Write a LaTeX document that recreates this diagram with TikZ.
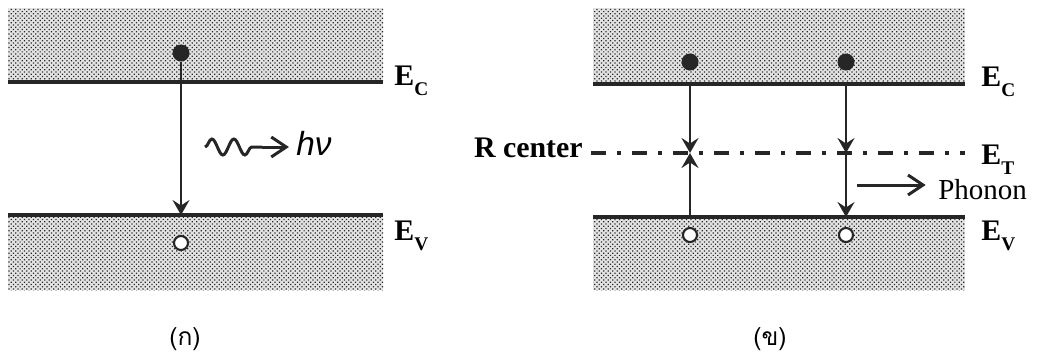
\documentclass[tikz,border=0pt]{standalone}
\usepackage{fontspec}
\setmainfont{Liberation Serif}
\newfontfamily\thaifont[Script=Thai]{Loma}
\newfontfamily\hvfont{Liberation Sans}
\usetikzlibrary{arrows.meta,patterns.meta,decorations.pathmorphing,positioning}
\newcommand{\lev}[1]{E\raisebox{-6pt}{\fontsize{11}{12}\selectfont #1}}
\tikzset{
  band/.style={fill=gray!22,postaction={pattern={Dots[distance=1.8pt,radius=0.5pt,angle=45]},pattern color=black!85}},
  levelline/.style={line width=2.2pt,color=black!85},
  trapline/.style={line width=2.2pt,color=black!85,dash pattern=on 0.3cm off 0.22cm on 0.08cm off 0.22cm},
  electron/.style={circle,fill=black!85,inner sep=0pt,minimum size=0.34cm},
  hole/.style={circle,draw=black!85,fill=white,line width=1.2pt,inner sep=0pt,minimum size=0.28cm},
  trans/.style={-{Stealth[length=0.3cm,width=0.34cm,inset=0.11cm]},line width=1.5pt,color=black!85},
  barb/.style={-{Straight Barb[length=0.3cm,width=0.4cm]},line width=1.7pt,color=black!85},
  photon/.style={decorate,decoration={snake,segment length=0.44cm,amplitude=0.16cm},line width=1.7pt,color=black!85},
  levlabel/.style={font=\bfseries\fontsize{17}{20}\selectfont,inner sep=0pt,anchor=base west},
  caption/.style={font=\thaifont\fontsize{14}{16}\selectfont,inner sep=0pt}
}

\begin{document}
\begin{tikzpicture}[x=0.02cm,y=-0.02cm]
  \useasboundingbox (0,0) rectangle (1037,356);
  % (ก) radiative recombination
  \fill[band] (8,8) rectangle (383,82);
  \fill[band] (8,215) rectangle (383,290);
  \draw[levelline] (8,82) -- (383,82);
  \draw[levelline] (8,215) -- (383,215);
  \node[levlabel] (eca) at (394,85) {\lev{C}};
  \node[levlabel] (eva) at (394,240) {\lev{V}};
  \node[electron] (e1) at (181,53) {};
  \node[hole] (h1) at (181,243) {};
  \coordinate (v1) at (181,215);
  \draw[trans] (e1) -- (v1);
  \coordinate (w0) at (205,147);
  \coordinate (w1) at (262,147);
  \node[font=\hvfont\itshape\fontsize{19}{22}\selectfont,inner sep=0pt,anchor=base west] (hv) at (296,155) {hν};
  \draw[photon] (w0) -- (w1);
  \draw[barb] (w1) -- (w1 -| hv.west) [shorten >=4pt];
  \node[caption] (capa) at (185,339) {(ก)};
  % (ข) recombination through an R center
  \fill[band] (593,8) rectangle (965,84);
  \fill[band] (593,217) rectangle (965,290);
  \draw[levelline] (593,84) -- (965,84);
  \draw[levelline] (593,217) -- (965,217);
  \node[levlabel,anchor=base east] (rc) at (583,157) {R center};
  \coordinate (tr) at (965,153);
  \draw[trapline] (rc.east |- tr) ++(8,0) -- (tr);
  \node[levlabel] (ecb) at (981,86) {\lev{C}};
  \node[levlabel] (etb) at (981,164) {\lev{T}};
  \node[levlabel] (evb) at (981,240) {\lev{V}};
  \node[electron] (e2) at (690,62) {};
  \node[electron] (e3) at (846,62) {};
  \node[hole] (h2) at (690,235) {};
  \node[hole] (h3) at (846,235) {};
  \coordinate (c2) at (690,84);
  \coordinate (t2) at (690,153);
  \coordinate (v2) at (690,217);
  \coordinate (c3) at (846,84);
  \coordinate (t3) at (846,153);
  \coordinate (v3) at (846,217);
  \draw[trans] (c2) -- (t2);
  \draw[trans] (v2) -- (t2);
  \draw[trans] (c3) -- (t3);
  \draw[trans] (t3) -- (v3);
  \node[font=\fontsize{16.5}{19}\selectfont,inner sep=0pt,anchor=base west] (ph) at (938,199) {Phonon};
  \coordinate (pa) at (857,185);
  \draw[barb] (pa) -- (pa -| ph.west) [shorten >=7pt];
  \node[caption] (capb) at (770,339) {(ข)};
\end{tikzpicture}
\end{document}
